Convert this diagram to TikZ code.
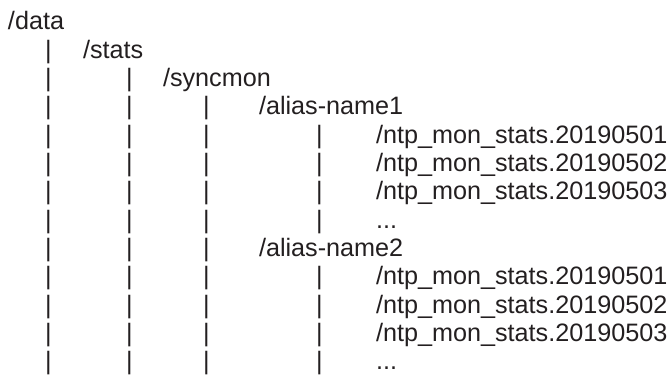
\documentclass[tikz,border=0pt]{standalone}
\usepackage{fontspec}
\setmainfont{Liberation Sans}
\usetikzlibrary{positioning}
\definecolor{DirInk}{RGB}{35,31,32}
\tikzset{
  dirname/.style={anchor=base west,inner sep=0pt,outer sep=0pt,text=DirInk,font=\fontsize{25.2}{30}\selectfont},
  dirbar/.style={dirname}
}

\begin{document}
\begin{tikzpicture}[x=1pt,y=-1pt]
\useasboundingbox (0,0) rectangle (672,377);
% baseline of row r = 30 + 28.33*r
\node[dirname] (data) at (8,30) {/data};
\node[dirname] (stats) at (83,58.33) {/stats};
\node[dirname] (syncmon) at (163,86.66) {/syncmon};
\node[dirname] (aliasA) at (259,115) {/alias-name1};
\node[dirname] (aliasB) at (259,256.6) {/alias-name2};

% files below each alias
\foreach \r/\f in {4/20190501,5/20190502,6/20190503}{
  \node[dirname] (fileA-\r) at (376,{30+28.33*\r}) {/ntp\_mon\_stats.\f};
  \node[dirname] (fileB-\r) at (376,{30+28.33*(\r+5)}) {/ntp\_mon\_stats.\f};
}
\node[dirname] (moreA) at (376,{30+28.33*7}) {...};
\node[dirname] (moreB) at (376,{30+28.33*12}) {...};

% vertical bars
\foreach \r in {1,...,12} \node[dirbar] (barA-\r) at (45,{30+28.33*\r}) {|};
\foreach \r in {2,...,12} \node[dirbar] (barB-\r) at (126,{30+28.33*\r}) {|};
\foreach \r in {3,...,12} \node[dirbar] (barC-\r) at (203,{30+28.33*\r}) {|};
\foreach \r in {4,...,7,9,10,11,12} \node[dirbar] (barD-\r) at (316,{30+28.33*\r}) {|};
\end{tikzpicture}
\end{document}
